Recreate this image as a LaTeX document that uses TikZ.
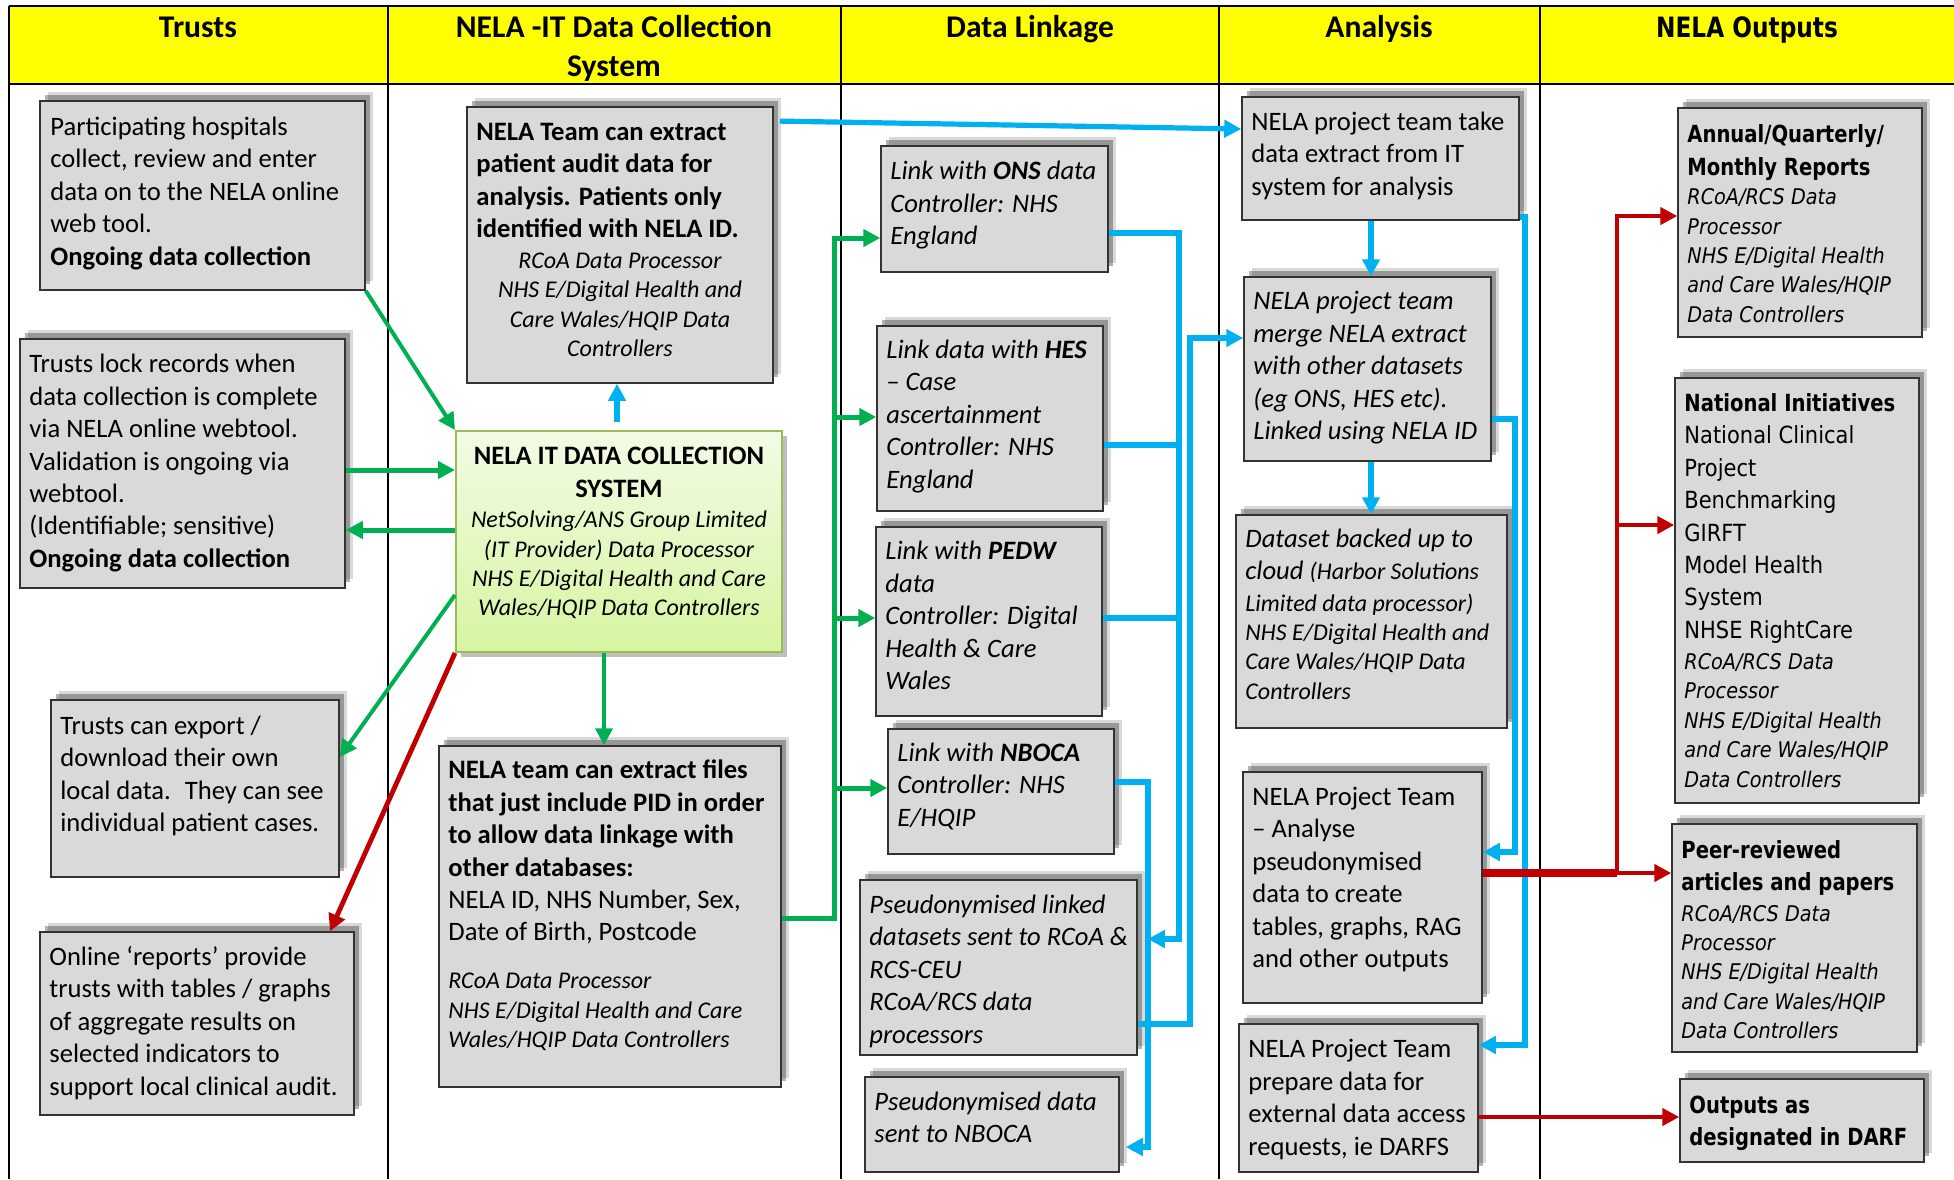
\documentclass[tikz,border=0pt]{standalone}
\usepackage{fontspec}
\setmainfont{Carlito}
\newfontfamily\tah[FakeStretch=0.89]{DejaVu Sans}
\newfontfamily\tahb[FakeStretch=0.83]{DejaVu Sans}
\usetikzlibrary{arrows.meta,shadows,fit}
\definecolor{hdr}{RGB}{255,255,0}
\definecolor{boxg}{RGB}{217,217,217}
\definecolor{grn}{RGB}{0,176,80}
\definecolor{blu}{RGB}{0,176,240}
\definecolor{rdd}{RGB}{192,0,0}
\definecolor{olv}{RGB}{155,187,89}
\definecolor{gtp}{RGB}{242,251,230}
\definecolor{gbt}{RGB}{214,245,160}
\newcommand\tl[5]{\node[#4,anchor=north west] (#1) at (#2,{#3-24}) {\rule{0pt}{12pt}#5};}
\newcommand\tc[5]{\node[#4,anchor=north,align=center] (#1) at (#2,{#3-24}) {\rule{0pt}{12pt}#5};}
\begin{document}
\begin{tikzpicture}[x=0.5pt,y=-0.5pt,line join=miter,
  bx/.style={draw=black!80,line width=0.75pt,fill=boxg,inner sep=0pt,
    drop shadow={shadow xshift=4pt,shadow yshift=4.5pt,opacity=0.15,fill=black},
    drop shadow={shadow xshift=2.5pt,shadow yshift=3pt,opacity=0.3,fill=black}},
  grbx/.style={draw=olv,line width=1pt,top color=gtp,bottom color=gbt,inner sep=0pt,
    drop shadow={shadow xshift=2.5pt,shadow yshift=-2.5pt,opacity=0.25,fill=black}},
  tx/.style={font=\fontsize{13.3}{16.2}\selectfont,align=left,inner sep=0pt},
  ti/.style={font=\itshape\fontsize{13.3}{16.2}\selectfont,align=left,inner sep=0pt},
  ts/.style={font=\itshape\fontsize{12}{14.7}\selectfont,align=left,inner sep=0pt},
  ot/.style={font=\tah\fontsize{11.8}{16.2}\selectfont,align=left,inner sep=0pt},
  ob/.style={font=\tahb\bfseries\fontsize{11.8}{16.2}\selectfont,align=left,inner sep=0pt},
  os/.style={font=\tah\itshape\fontsize{10.8}{14.7}\selectfont,align=left,inner sep=0pt},
  hd/.style={font=\bfseries\fontsize{15.8}{19.5}\selectfont,inner sep=0pt},
  hdo/.style={font=\tahb\bfseries\fontsize{14}{17}\selectfont,inner sep=0pt},
  arw/.style={-{Triangle[length=8.5pt,width=8.5pt]}},
  gl/.style={draw=grn,line width=2pt},
  bl/.style={draw=blu,line width=2.6pt},
  rl/.style={draw=rdd,line width=2.4pt}]
\useasboundingbox (0,0) rectangle (1954,1179);
% ---------- table ----------
\fill[hdr] (9,6) rectangle (1954,84);
\draw[line width=1pt] (9,6) -- (1954,6);
\draw[line width=1.3pt] (9,84) -- (1954,84);
\foreach \xx in {9,387.6,840.6,1218.6,1540} \draw[line width=1pt] (\xx,6) -- (\xx,1179);
\node[hd,anchor=base] (h1) at (198,37.5) {Trusts};
\node[hd,anchor=north,align=center] (h2) at (614,11.5) {\rule{0pt}{13pt}NELA -IT Data Collection\\System};
\node[hd,anchor=base] (h3) at (1030,37.5) {Data Linkage};
\node[hd,anchor=base] (h4) at (1379,37.5) {Analysis};
\node[hdo,anchor=base] (h5) at (1747,37.5) {NELA Outputs};
% ---------- boxes ----------
\node[bx,fit={(40,101)(365,290)}] (t1) {};
\node[bx,fit={(20,339)(345,588)}] (t2) {};
\node[bx,fit={(51,700)(339,877)}] (t3) {};
\node[bx,fit={(40,932)(354,1115)}] (t4) {};
\node[bx,fit={(467,107)(773,383)}] (n1) {};
\node[grbx,fit={(456,431)(782,652)}] (n2) {};
\node[bx,fit={(439,746)(781,1087)}] (n3) {};
\node[bx,fit={(881,146)(1108,272)}] (d1) {};
\node[bx,fit={(877,326)(1103,511)}] (d2) {};
\node[bx,fit={(876,527)(1102,716)}] (d3) {};
\node[bx,fit={(888,729)(1114,854)}] (d4) {};
\node[bx,fit={(860,880)(1137,1055)}] (d5) {};
\node[bx,fit={(865,1077)(1119,1172)}] (d6) {};
\node[bx,fit={(1242,97)(1519,220)}] (a1) {};
\node[bx,fit={(1244,277)(1491,461)}] (a2) {};
\node[bx,fit={(1236,515)(1507,728)}] (a3) {};
\node[bx,fit={(1243,772)(1482,1003)}] (a4) {};
\node[bx,fit={(1239,1024)(1478,1172)}] (a5) {};
\node[bx,fit={(1678,108)(1922,337)}] (o1) {};
\node[bx,fit={(1675,378)(1919,803)}] (o2) {};
\node[bx,fit={(1672,824)(1917,1052)}] (o3) {};
\node[bx,fit={(1680,1079)(1924,1162)}] (o4) {};
% ---------- texts ----------
\tl{t1x}{50}{135}{tx}{Participating hospitals\\collect, review and enter\\data on to the NELA online\\web tool.\\\textbf{Ongoing data collection}}
\tl{t2x}{29}{372.5}{tx}{Trusts lock records when\\data collection is complete\\via NELA online webtool.\\Validation is ongoing via\\webtool.\\(Identifiable; sensitive)\\\textbf{Ongoing data collection}}
\tl{t3x}{60}{734}{tx}{Trusts can export /\\download their own\\local data.~ They can see\\individual patient cases.}
\tl{t4x}{49}{965}{tx}{Online ‘reports’ provide\\trusts with tables / graphs\\of aggregate results on\\selected indicators to\\support local clinical audit.}
\tl{n1x}{476}{140}{tx}{\textbf{NELA Team can extract}\\\textbf{patient audit data for}\\\textbf{analysis. Patients only}\\\textbf{identified with NELA ID.}}
\tc{n1y}{620}{268}{ts}{RCoA Data Processor\\NHS E/Digital Health and\\Care Wales/HQIP Data\\Controllers}
\tc{n2x}{619}{464.3}{tx}{\textbf{NELA IT DATA COLLECTION}\\\textbf{SYSTEM}}
\tc{n2y}{619}{527.3}{ts}{NetSolving/ANS Group Limited\\(IT Provider) Data Processor\\NHS E/Digital Health and Care\\Wales/HQIP Data Controllers}
\tl{n3x}{448}{778.5}{tx}{\textbf{NELA team can extract files}\\\textbf{that just include PID in order}\\\textbf{to allow data linkage with}\\\textbf{other databases:}\\NELA ID, NHS Number, Sex,\\Date of Birth, Postcode}
\tl{n3y}{448}{988.3}{ts}{RCoA Data Processor\\NHS E/Digital Health and Care\\Wales/HQIP Data Controllers}
\tl{d1x}{890}{179.5}{ti}{Link with \textbf{ONS} data\\Controller: NHS\\England}
\tl{d2x}{886}{358}{ti}{Link data with \textbf{HES}\\– Case\\ascertainment\\Controller: NHS\\England}
\tl{d3x}{885}{559.5}{ti}{Link with \textbf{PEDW}\\data\\Controller: Digital\\Health \& Care\\Wales}
\tl{d4x}{897}{761}{ti}{Link with \textbf{NBOCA}\\Controller: NHS\\E/HQIP}
\tl{d5x}{869}{913}{ti}{Pseudonymised linked\\datasets sent to RCoA \&\\RCS-CEU\\RCoA/RCS data\\processors}
\tl{d6x}{874}{1110}{ti}{Pseudonymised data\\sent to NBOCA}
\tl{a1x}{1251}{130}{tx}{NELA project team take\\data extract from IT\\system for analysis}
\tl{a2x}{1253}{309.5}{ti}{NELA project team\\merge NELA extract\\with other datasets\\(eg ONS, HES etc).\\Linked using NELA ID}
\tl{a3x}{1245}{546.7}{ti}{Dataset backed up to\\cloud {\fontsize{12}{14.7}\selectfont(Harbor Solutions}}
\tl{a3y}{1245}{610.7}{ts}{Limited data processor)\\NHS E/Digital Health and\\Care Wales/HQIP Data\\Controllers}
\tl{a4x}{1252}{805}{tx}{NELA Project Team\\– Analyse\\pseudonymised\\data to create\\tables, graphs, RAG\\and other outputs}
\tl{a5x}{1248}{1057.5}{tx}{NELA Project Team\\prepare data for\\external data access\\requests, ie DARFS}
\tl{o1x}{1687}{142.5}{ob}{Annual/Quarterly/\\Monthly Reports}
\tl{o1y}{1687}{204.2}{os}{RCoA/RCS Data\\Processor\\NHS E/Digital Health\\and Care Wales/HQIP\\Data Controllers}
\tl{o2x}{1684}{411}{ot}{{\tahb\bfseries National Initiatives}\\National Clinical\\Project\\Benchmarking\\GIRFT\\Model Health\\System\\NHSE RightCare}
\tl{o2y}{1684}{669}{os}{RCoA/RCS Data\\Processor\\NHS E/Digital Health\\and Care Wales/HQIP\\Data Controllers}
\tl{o3x}{1681}{857.7}{ob}{Peer-reviewed\\articles and papers}
\tl{o3y}{1681}{920.7}{os}{RCoA/RCS Data\\Processor\\NHS E/Digital Health\\and Care Wales/HQIP\\Data Controllers}
\tl{o4x}{1689}{1112.8}{ob}{Outputs as\\designated in DARF}
% ---------- green connectors ----------
\draw[gl,arw] (t1.south east) -- (n2.north west);
\coordinate (ga) at (345,470);
\coordinate (gb) at (456,530);
\draw[gl,line width=2.5pt,arw] (t2.east |- ga) -- (n2.west |- ga);
\draw[gl,line width=2.5pt,arw] (n2.west |- gb) -- (t2.east |- gb);
\coordinate (gc) at (456,595);
\coordinate (gd) at (339,757);
\draw[gl,arw] (n2.west |- gc) -- (t3.east |- gd);
\coordinate (ge) at (604,700);
\draw[gl,arw] (n2.south -| ge) -- (n3.north -| ge);
\coordinate (gbx) at (834,918);
\coordinate (gtop) at (834,238);
\coordinate (gx2) at (834,417);
\coordinate (gx3) at (834,618);
\coordinate (gx4) at (834,788);
\draw[gl,line width=2.5pt,arw] (n3.east |- gbx) -- (gbx) -- (gtop) -- (d1.west |- gtop);
\draw[gl,line width=2.5pt,arw] (gx2) -- (d2.west |- gx2);
\draw[gl,line width=2.5pt,arw] (gx3) -- (d3.west |- gx3);
\draw[gl,line width=2.5pt,arw] (gx4) -- (d4.west |- gx4);
% ---------- blue connectors ----------
\coordinate (b1s) at (778,121);
\coordinate (b1e) at (1242,129);
\draw[bl,arw,shorten <=3pt] (n1.east |- b1s) -- (a1.west |- b1e);
\coordinate (b2) at (617,400);
\draw[bl,arw,shorten <=4pt] (n2.north -| b2) -- (n1.south -| b2);
\coordinate (b3) at (1371,300);
\draw[bl,arw] (a1.south -| b3) -- (a2.north -| b3);
\draw[bl,arw] (a2.south -| b3) -- (a3.north -| b3);
\coordinate (b5a) at (1525,217);
\coordinate (b5b) at (1525,1045);
\draw[bl,arw] (a1.east |- b5a) -- (b5a) -- (b5b) -- (a5.east |- b5b);
\coordinate (b6a) at (1515,419);
\coordinate (b6b) at (1515,852);
\draw[bl,arw] (a2.east |- b6a) -- (b6a) -- (b6b) -- (a4.east |- b6b);
\coordinate (b7a) at (1179,233);
\coordinate (b7b) at (1179,939);
\draw[bl,arw,shorten >=5pt] (d1.east |- b7a) -- (b7a) -- (b7b) -- (d5.east |- b7b);
\coordinate (b8) at (1179,445);
\coordinate (b9) at (1179,618);
\draw[bl] (d2.east |- b8) -- (b8);
\draw[bl] (d3.east |- b9) -- (b9);
\coordinate (b10a) at (1148,782);
\coordinate (b10b) at (1148,1147);
\draw[bl,arw,shorten >=3pt] (d4.east |- b10a) -- (b10a) -- (b10b) -- (d6.east |- b10b);
\coordinate (b11a) at (1190,1024);
\coordinate (b11b) at (1190,338);
\draw[bl,arw] (d5.east |- b11a) -- (b11a) -- (b11b) -- (a2.west |- b11b);
% ---------- red connectors ----------
\coordinate (r1) at (330,932);
\draw[rl,arw] (n2.south west) -- (t4.north -| r1);
\coordinate (rj) at (1617,873);
\coordinate (rt) at (1617,216);
\coordinate (rm) at (1617,525);
\draw[draw=rdd,line width=3.8pt] (a4.east |- rj) -- (rj);
\draw[rl,arw] (rj) -- (o3.west |- rj);
\draw[rl,arw] (rj) -- (rt) -- (o1.west |- rt);
\draw[rl,arw] (rm) -- (o2.west |- rm);
\coordinate (r3) at (1478,1117);
\draw[rl,arw] (a5.east |- r3) -- (o4.west |- r3);
\end{tikzpicture}
\end{document}
